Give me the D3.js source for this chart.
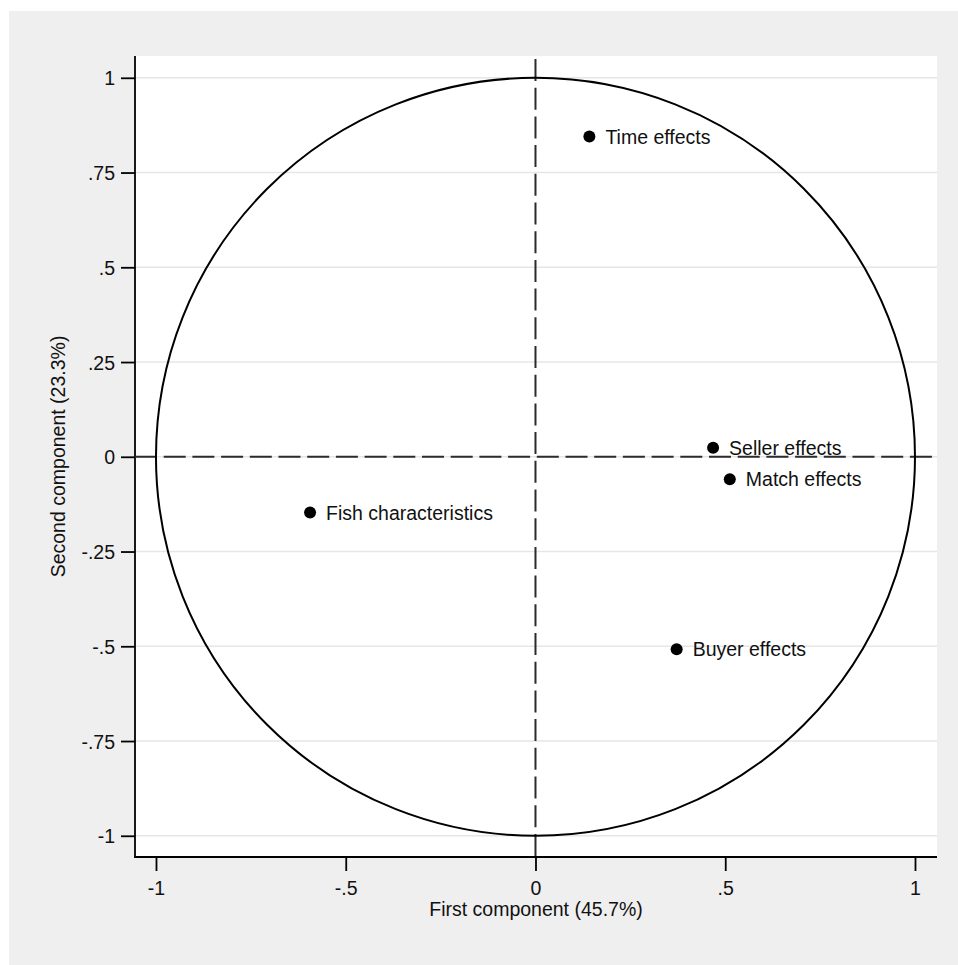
<!DOCTYPE html>
<html>
<head>
    <meta charset="utf-8">
    <title>Component loadings</title>
    <script src="https://cdn.jsdelivr.net/npm/d3@7"></script>
    <style>
        body { margin: 0; background: #ffffff; }
        text { font-family: "Liberation Sans", Arial, sans-serif; fill: #111; }
    </style>
</head>
<body>
    <svg width="958" height="965" id="mainsvg"></svg>
    <script>
        // data
        const labels = ['Time effects', 'Seller effects', 'Match effects', 'Fish characteristics', 'Buyer effects'];
        const comp1 = [0.142, 0.468, 0.512, -0.594, 0.372];
        const comp2 = [0.845, 0.024, -0.059, -0.147, -0.508];

        const xTicks = [-1, -0.5, 0, 0.5, 1];
        const xTickLabels = ['-1', '-.5', '0', '.5', '1'];
        const yTicks = [-1, -0.75, -0.5, -0.25, 0, 0.25, 0.5, 0.75, 1];
        const yTickLabels = ['-1', '-.75', '-.5', '-.25', '0', '.25', '.5', '.75', '1'];

        const xAxisLabel = 'First component (45.7%)';
        const yAxisLabel = 'Second component (23.3%)';

        const svg = d3.select('#mainsvg');
        const plot = { left: 135, right: 937, top: 56, bottom: 857 };
        const fontSize = '19.5px';

        // grey outer panel + white plot region
        svg.append('rect').attr('x', 9).attr('y', 11)
            .attr('width', 958 - 9).attr('height', 965 - 11).attr('fill', '#efefef');
        svg.append('rect').attr('x', plot.left).attr('y', plot.top)
            .attr('width', plot.right - plot.left).attr('height', plot.bottom - plot.top)
            .attr('fill', '#ffffff');

        const xScale = d3.scaleLinear().domain([-1.0553, 1.058]).range([plot.left, plot.right]);
        const yScale = d3.scaleLinear().domain([-1.056, 1.0575]).range([plot.bottom, plot.top]);

        // horizontal gridlines
        svg.append('g').selectAll('line').data(yTicks).join('line')
            .attr('x1', plot.left).attr('x2', plot.right)
            .attr('y1', d => yScale(d)).attr('y2', d => yScale(d))
            .attr('stroke', '#e6e6e6').attr('stroke-width', 1.6);

        // y axis
        const yAxis = d3.axisLeft(yScale)
            .tickValues(yTicks)
            .tickFormat((d, i) => yTickLabels[i])
            .tickSize(14)
            .tickPadding(6);
        const yAxisGroup = svg.append('g')
            .attr('transform', `translate(${plot.left}, 0)`)
            .call(yAxis);
        yAxisGroup.select('.domain').remove();
        yAxisGroup.append('line')
            .attr('x1', 0).attr('x2', 0)
            .attr('y1', plot.top).attr('y2', plot.bottom + 1)
            .attr('stroke', '#000').attr('stroke-width', 1.8);
        yAxisGroup.selectAll('.tick line').attr('stroke', '#000').attr('stroke-width', 1.8);
        yAxisGroup.selectAll('.tick text')
            .attr('font-size', fontSize).attr('font-family', '"Liberation Sans", Arial, sans-serif')
            .attr('fill', '#111').attr('dy', '0.36em');

        // x axis
        const xAxis = d3.axisBottom(xScale)
            .tickValues(xTicks)
            .tickFormat((d, i) => xTickLabels[i])
            .tickSize(14)
            .tickPadding(10);
        const xAxisGroup = svg.append('g')
            .attr('transform', `translate(0, ${plot.bottom})`)
            .call(xAxis);
        xAxisGroup.select('.domain').remove();
        xAxisGroup.append('line')
            .attr('x1', plot.left - 1).attr('x2', plot.right)
            .attr('y1', 0).attr('y2', 0)
            .attr('stroke', '#000').attr('stroke-width', 1.8);
        xAxisGroup.selectAll('.tick line').attr('stroke', '#000').attr('stroke-width', 1.8);
        xAxisGroup.selectAll('.tick text')
            .attr('font-size', fontSize).attr('font-family', '"Liberation Sans", Arial, sans-serif')
            .attr('fill', '#111').attr('dy', '0.72em');

        // axis titles
        svg.append('text')
            .attr('x', (plot.left + plot.right) / 2)
            .attr('y', 916)
            .attr('text-anchor', 'middle')
            .attr('font-size', fontSize)
            .text(xAxisLabel);
        svg.append('text')
            .attr('transform', `translate(65, ${(plot.top + plot.bottom) / 2}) rotate(-90)`)
            .attr('text-anchor', 'middle')
            .attr('font-size', fontSize)
            .text(yAxisLabel);

        // dashed reference lines at zero
        svg.append('line')
            .attr('x1', plot.left).attr('x2', plot.right)
            .attr('y1', yScale(0)).attr('y2', yScale(0))
            .attr('stroke', '#2b2b2b').attr('stroke-width', 2)
            .attr('stroke-dasharray', '22,6.7');
        svg.append('line')
            .attr('x1', xScale(0)).attr('x2', xScale(0))
            .attr('y1', plot.top + 3).attr('y2', plot.bottom)
            .attr('stroke', '#2b2b2b').attr('stroke-width', 2)
            .attr('stroke-dasharray', '22,6.7');

        // unit circle
        svg.append('ellipse')
            .attr('cx', xScale(0)).attr('cy', yScale(0))
            .attr('rx', xScale(1) - xScale(0))
            .attr('ry', yScale(0) - yScale(1))
            .attr('fill', 'none').attr('stroke', '#000').attr('stroke-width', 2);

        // points + labels
        const data = labels.map((d, i) => ({ label: d, x: comp1[i], y: comp2[i] }));
        const pts = svg.append('g').selectAll('g').data(data).join('g')
            .attr('transform', d => `translate(${xScale(d.x)}, ${yScale(d.y)})`);
        pts.append('circle').attr('r', 6).attr('fill', '#000');
        pts.append('text')
            .attr('x', 16)
            .attr('dy', '0.36em')
            .attr('font-size', fontSize)
            .text(d => d.label);
    </script>
</body>
</html>
